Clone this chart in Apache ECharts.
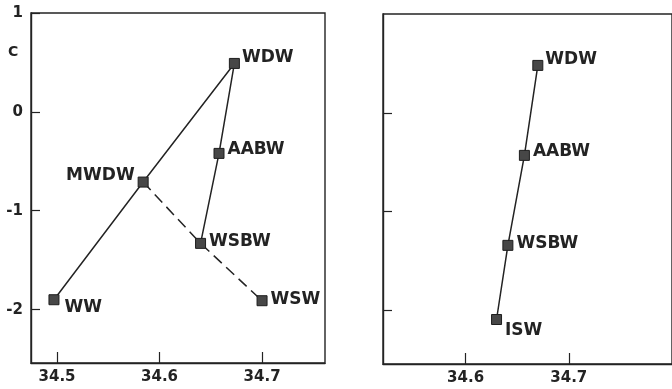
<!DOCTYPE html>
<html>
<head>
<meta charset="utf-8">
<script src="https://cdn.jsdelivr.net/npm/echarts@6/dist/echarts.min.js"></script>
<style>
  html, body { margin: 0; padding: 0; background: #fff; }
  #main { width: 672px; height: 389px; }
</style>
</head>
<body>
<div id="main"></div>
<script>
// 左图: 各水团的盐度 / 温度
var leftNames = ['WDW', 'AABW', 'MWDW', 'WSBW', 'WSW', 'WW'];
var leftSalinity = [34.673, 34.658, 34.584, 34.640, 34.700, 34.497];
var leftTemp = [0.49, -0.42, -0.71, -1.33, -1.91, -1.90];

// 右图
var rightNames = ['WDW', 'AABW', 'WSBW', 'ISW'];
var rightSalinity = [34.670, 34.657, 34.641, 34.630];
var rightTemp = [0.48, -0.43, -1.34, -2.09];

// 连线 (实线 / 虚线)
var leftSolidA = ['WW', 'MWDW', 'WDW'];
var leftSolidB = ['WDW', 'AABW', 'WSBW'];
var leftDashed = ['MWDW', 'WSBW', 'WSW'];
var rightSolid = ['ISW', 'WSBW', 'AABW', 'WDW'];

var yTicks = [-2, -1, 0, 1];
var xTicksLeft = [34.5, 34.6, 34.7];
var xTicksRight = [34.6, 34.7];

// 标签偏移
var labelStyle = {
    WDW: { position: 'right', offset: [-1, -6] },
    AABW: { position: 'right', offset: [0, -4] },
    MWDW: { position: 'left', offset: [0, -6] },
    WSBW: { position: 'right', offset: [0, -2] },
    WSW: { position: 'right', offset: [0, -1] },
    WW: { position: 'right', offset: [2, 8] },
    ISW: { position: 'right', offset: [0, 11] }
};

var ink = '#232323';
var font = 'DejaVu Sans';

function pts(names, xs, ys, order) {
    return order.map(function (n) {
        var i = names.indexOf(n);
        return [xs[i], ys[i]];
    });
}

function lineSeries(idx, data, dashed) {
    return {
        type: 'line',
        xAxisIndex: idx,
        yAxisIndex: idx,
        data: data,
        symbol: 'none',
        silent: true,
        z: 2,
        lineStyle: { color: ink, width: 1.5, type: dashed ? [11, 6] : 'solid' }
    };
}

function pointSeries(idx, names, xs, ys) {
    return {
        type: 'scatter',
        xAxisIndex: idx,
        yAxisIndex: idx,
        symbol: 'rect',
        symbolSize: 10,
        z: 3,
        itemStyle: { color: '#474747', borderColor: '#1e1e1e', borderWidth: 1, opacity: 1 },
        data: names.map(function (n, i) {
            var s = labelStyle[n];
            return {
                value: [xs[i], ys[i]],
                name: n,
                label: {
                    show: true,
                    position: s.position,
                    offset: s.offset,
                    distance: 3,
                    formatter: n,
                    color: ink,
                    fontFamily: font,
                    fontWeight: 'bold',
                    fontSize: 17
                }
            };
        })
    };
}

function xAxisOpt(idx, min, max, ticks) {
    return {
        type: 'value',
        gridIndex: idx,
        min: min,
        max: max,
        axisLine: { show: true, onZero: false, lineStyle: { color: ink, width: 1.4 } },
        axisTick: { show: true, inside: true, length: 11, customValues: ticks, lineStyle: { color: ink, width: 1.2 } },
        axisLabel: {
            customValues: ticks,
            margin: 7,
            color: ink,
            fontFamily: font,
            fontWeight: 'bold',
            fontSize: 15,
            formatter: function (v) { return v.toFixed(1); }
        },
        splitLine: { show: false }
    };
}

function yAxisOpt(idx, showLabel, ticks) {
    return {
        type: 'value',
        gridIndex: idx,
        min: -2.54,
        max: 1,
        axisLine: { show: true, onZero: false, lineStyle: { color: ink, width: 1.4 } },
        axisTick: { show: true, inside: true, length: 9, customValues: ticks, lineStyle: { color: ink, width: 1.2 } },
        axisLabel: {
            show: showLabel,
            customValues: ticks,
            margin: 8,
            color: ink,
            fontFamily: font,
            fontWeight: 'bold',
            fontSize: 15
        },
        splitLine: { show: false }
    };
}

var chart = echarts.init(document.getElementById('main'));

var option = {
    backgroundColor: '#fff',
    animation: false,
    graphic: [{
        type: 'text',
        left: 8,
        top: 45,
        style: { text: 'C', fill: ink, font: 'bold 14px "DejaVu Sans"' }
    }],
    grid: [
        { left: 31, top: 13, width: 294, height: 350, show: true, borderColor: ink, borderWidth: 1.4 },
        { left: 383, top: 14, width: 300, height: 350, show: true, borderColor: ink, borderWidth: 1.4 }
    ],
    xAxis: [
        xAxisOpt(0, 34.4746, 34.7614, xTicksLeft),
        xAxisOpt(1, 34.52, 34.80, xTicksRight)
    ],
    yAxis: [
        yAxisOpt(0, true, yTicks),
        yAxisOpt(1, false, [-2, -1, 0])
    ],
    series: [
        lineSeries(0, pts(leftNames, leftSalinity, leftTemp, leftSolidA), false),
        lineSeries(0, pts(leftNames, leftSalinity, leftTemp, leftSolidB), false),
        lineSeries(0, pts(leftNames, leftSalinity, leftTemp, leftDashed), true),
        pointSeries(0, leftNames, leftSalinity, leftTemp),
        lineSeries(1, pts(rightNames, rightSalinity, rightTemp, rightSolid), false),
        pointSeries(1, rightNames, rightSalinity, rightTemp)
    ]
};

chart.setOption(option);
</script>
</body>
</html>
